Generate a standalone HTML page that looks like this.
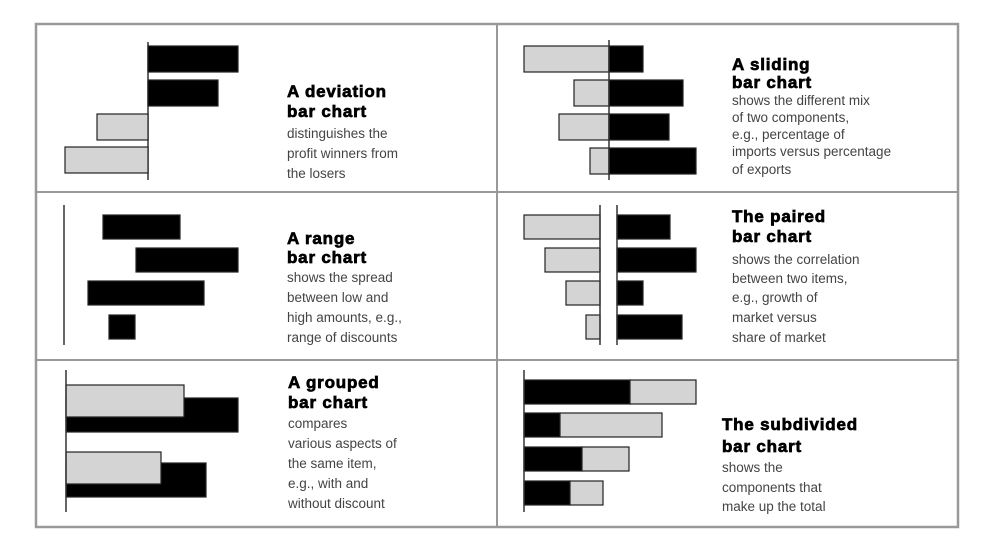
<!DOCTYPE html>
<html><head><meta charset="utf-8"><style>
html,body{margin:0;padding:0;background:#fff;}
svg{display:block;}
.t{font-family:"Liberation Sans",Arial,sans-serif;font-weight:900;font-size:17px;fill:#000;stroke:#000;stroke-width:0.7px;letter-spacing:0.8px;}
.b{font-family:"Liberation Sans",Arial,sans-serif;font-size:13.5px;fill:#444;}
</style></head><body>
<svg id="c" width="992" height="548" viewBox="0 0 992 548">
<rect x="36" y="24" width="922" height="503" fill="#fff" stroke="#999" stroke-width="2.5"/>
<line x1="36" y1="192" x2="958" y2="192" stroke="#999" stroke-width="2"/>
<line x1="36" y1="360" x2="958" y2="360" stroke="#999" stroke-width="2"/>
<line x1="497" y1="24" x2="497" y2="527" stroke="#999" stroke-width="2"/>
<g id="g"></g>
</svg>
<script>
const deviationVals = [90, 70, -51, -83];
const slidingGray = [85, 35, 50, 19];
const slidingBlack = [34, 74, 60, 87];
const rangeLow = [39, 72, 24, 45];
const rangeHigh = [116, 174, 140, 71];
const pairedLeft = [76, 55, 34, 14];
const pairedRight = [53, 79, 26, 65];
const groupedA = [118, 95];
const groupedB = [172, 140];
const subA = [106, 36, 58, 46];
const subB = [66, 102, 47, 33];

const NS = "http://www.w3.org/2000/svg";
const g = document.getElementById('g');
function el(tag, attrs){const e=document.createElementNS(NS,tag);for(const k in attrs)e.setAttribute(k,attrs[k]);g.appendChild(e);return e;}
function sx(axis){return v=>axis+v;}
function bar(x1,x2,y,h,fill,name){
  const e=el('rect',{x:Math.min(x1,x2),y:y,width:Math.abs(x2-x1),height:h,fill:fill,stroke:'#222','stroke-width':1.2});
  
  
}
function axisLine(x,y1,y2,name){
  const e=el('line',{x1:x,y1:y1,x2:x,y2:y2,stroke:'#333','stroke-width':1.5});
  
  
}
function text(x,ys,lines,nTitle,name){
  lines.forEach((s,i)=>{
    const e=el('text',{x:x,y:ys[i],class:i<nTitle?'t':'b'});
    e.textContent=s;
    
    
  });
}
const GRAY='#d4d4d4';
{const x=sx(148);axisLine(148,42,180,'deviation-axis');const ys=[46,80,114,147];
deviationVals.forEach((v,i)=>bar(x(0),x(v),ys[i],26,v>=0?'#000':GRAY,'deviation-bar'));
text(287,[97,117,138,158,178],['A deviation','bar chart','distinguishes the','profit winners from','the losers'],2,'deviation');}
{const x=sx(609);const ys=[46,80,114,148];
slidingGray.forEach((v,i)=>bar(x(-v),x(0),ys[i],26,GRAY,'sliding-bar-gray'));
slidingBlack.forEach((v,i)=>bar(x(0),x(v),ys[i],26,'#000','sliding-bar-black'));
axisLine(609,40,180,'sliding-axis');
text(732,[70,88,105,122,139,156,174],['A sliding','bar chart','shows the different mix','of two components,','e.g., percentage of','imports versus percentage','of exports'],2,'sliding');}
{const x=sx(64);axisLine(64,205,345,'range-axis');const ys=[215,248,281,315];
rangeLow.forEach((v,i)=>bar(x(v),x(rangeHigh[i]),ys[i],24,'#000','range-bar'));
text(287,[244,263,282,302,322,342],['A range','bar chart','shows the spread','between low and','high amounts, e.g.,','range of discounts'],2,'range');}
{const xl=sx(600),xr=sx(617);const ys=[215,248,281,315];
pairedLeft.forEach((v,i)=>bar(xl(-v),xl(0),ys[i],24,GRAY,'paired-bar-left'));
pairedRight.forEach((v,i)=>bar(xr(0),xr(v),ys[i],24,'#000','paired-bar-right'));
axisLine(600,205,345,'paired-axis-left');axisLine(617,205,345,'paired-axis-right');
text(732,[222,242,264,283,302,322,342],['The paired','bar chart','shows the correlation','between two items,','e.g., growth of','market versus','share of market'],2,'paired');}
{const x=sx(66);const ysA=[385,452],ysB=[398,463];
groupedB.forEach((v,i)=>bar(x(0),x(v),ysB[i],34,'#000','grouped-bar-black'));
groupedA.forEach((v,i)=>bar(x(0),x(v),ysA[i],32,GRAY,'grouped-bar-gray'));
axisLine(66,370,512,'grouped-axis');
text(288,[388,408,428,448,468,488,508],['A grouped','bar chart','compares','various aspects of','the same item,','e.g., with and','without discount'],2,'grouped');}
{const x=sx(524);const ys=[380,413,447,481];
subA.forEach((v,i)=>{bar(x(0),x(v),ys[i],24,'#000','subdivided-bar-black');bar(x(v),x(v+subB[i]),ys[i],24,GRAY,'subdivided-bar-gray');});
axisLine(524,370,512,'subdivided-axis');
text(722,[430,452,472,492,511],['The subdivided','bar chart','shows the','components that','make up the total'],2,'subdivided');}
</script>
</body></html>
